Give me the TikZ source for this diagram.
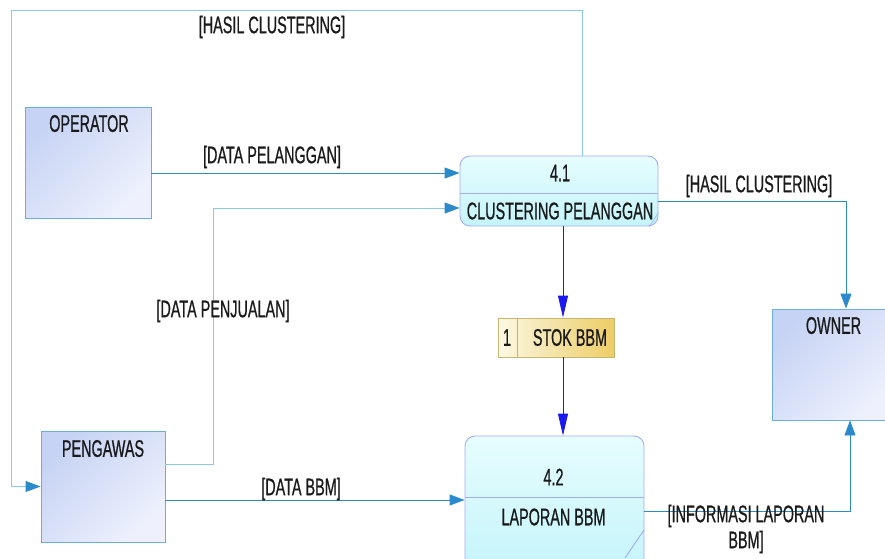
\documentclass[tikz,border=0pt]{standalone}
\usepackage{fontspec}
\setmainfont{Liberation Sans}[FakeStretch=0.6,FakeBold=0.7]
\usetikzlibrary{arrows.meta}
\definecolor{flowc}{HTML}{2A8ACB}
\definecolor{flowlt}{HTML}{8CC8EC}
\definecolor{storeflow}{HTML}{1A1AF0}
\definecolor{entd}{HTML}{C6D3F4}
\definecolor{entl}{HTML}{EEF1FD}
\definecolor{entb}{HTML}{6AAEDC}
\definecolor{procl}{HTML}{E6FDFD}
\definecolor{procd}{HTML}{C4F4FB}
\definecolor{procb}{HTML}{A4ACF6}
\definecolor{stl}{HTML}{FCF8E4}
\definecolor{std}{HTML}{EDCD66}
\definecolor{stb}{HTML}{C8B670}
\definecolor{txt}{HTML}{1A1A1A}
\begin{document}
\begin{tikzpicture}[x=1pt,y=-1pt,
  font=\fontsize{24}{26}\selectfont, text=txt,
  entity/.style={draw=entb, line width=0.9pt, top color=entd, bottom color=entl, shading angle=45, inner sep=0pt},
  process/.style={draw=procb, line width=0.9pt, rounded corners=10pt, top color=procl, bottom color=procd, inner sep=0pt},
  storebox/.style={draw=stb, line width=0.9pt, left color=stl, right color=std, inner sep=0pt},
  flow/.style={draw=flowc, line width=0.9pt, -{Triangle[length=15pt,width=11pt]}},
  loopflow/.style={draw=flowlt, line width=0.9pt, -{Triangle[length=15pt,width=11pt,color=flowc]}},
  sflow/.style={draw=storeflow, line width=0.9pt, -{Triangle[length=22pt,width=10pt]}},
  lbl/.style={inner sep=0pt}
]
\useasboundingbox (0,0) rectangle (885,558);

% entities
\node[entity, minimum width=126pt, minimum height=111pt] (op) at (88,162.5) {};
\node[entity, minimum width=124pt, minimum height=111pt] (pg) at (103,486.5) {};
\node[entity, minimum width=123pt, minimum height=111pt] (ow) at (833.5,364.5) {};
\node[lbl] (opT) at ([yshift=-17pt,xshift=1pt]op.north) {OPERATOR};
\node[lbl] (pgT) at ([yshift=-18pt]pg.north) {PENGAWAS};
\node[lbl] (owT) at ([yshift=-17pt]ow.north) {OWNER};

% processes
\node[process, minimum width=198pt, minimum height=70pt] (p1) at (559,191) {};
\draw[procb, line width=0.9pt] ([yshift=-2pt]p1.west) -- ([yshift=-2pt]p1.east);
\draw[procb, line width=0.6pt] ([xshift=-9pt]p1.south east) -- ([yshift=14pt]p1.south east);
\node[lbl] (p1n) at ([yshift=18pt,xshift=1pt]p1.center) {4.1};
\node[lbl] (p1t) at ([yshift=-20pt,xshift=1pt]p1.center) {CLUSTERING PELANGGAN};

\node[process, minimum width=179pt, minimum height=136pt] (p2) at (554.5,504) {};
\draw[procb, line width=0.9pt] ([yshift=7pt]p2.west) -- ([yshift=7pt]p2.east);
\draw[procb, line width=0.9pt] (625,558) -- (644,530);
\node[lbl] (p2n) at ([yshift=27pt,xshift=-1pt]p2.center) {4.2};
\node[lbl] (p2t) at ([yshift=-13pt,xshift=-1pt]p2.center) {LAPORAN BBM};

% data store
\node[storebox, minimum width=116pt, minimum height=39pt] (st) at (556,337.5) {};
\draw[stb, line width=0.9pt] ([xshift=-39pt]st.north) -- ([xshift=-39pt]st.south);
\node[lbl] (stn) at ([xshift=-49pt]st.center) {1};
\node[lbl] (stt) at ([xshift=14pt]st.center) {STOK BBM};

% flows
\draw[flow] ([yshift=-10.5pt]op.east) coordinate (a1) -- (a1 -| p1.west);
\node[lbl] (l1) at (272,157) {[DATA PELANGGAN]};

\draw[loopflow] ([yshift=22.5pt]pg.east) -- ++(48,0) |- ([yshift=-17pt]p1.west);
\node[lbl] (l2) at (223,311) {[DATA PENJUALAN]};

\draw[flow] ([yshift=-13.5pt]pg.east) coordinate (a3) -- (a3 -| p2.west);
\node[lbl] (l3) at (301,489) {[DATA BBM]};

\draw[loopflow] ([xshift=23pt]p1.north) |- (11,10) |- (pg.west);
\node[lbl] (l4) at (272,27) {[HASIL CLUSTERING]};

\draw[flow] ([yshift=-10pt]p1.east) -| ([xshift=12.5pt]ow.north);
\node[lbl] (l5) at (759,186) {[HASIL CLUSTERING]};

\draw[sflow] ([xshift=4pt]p1.south) coordinate (a6) -- (a6 |- st.north);
\draw[sflow] ([xshift=7pt]st.south) coordinate (a7) -- (a7 |- p2.north);

\draw[flow] ([yshift=-7pt]p2.east) -| ([xshift=16.5pt]ow.south);
\node[lbl, align=center] (l6) at (746,529) {[INFORMASI LAPORAN\\BBM]};
\end{tikzpicture}
\end{document}
